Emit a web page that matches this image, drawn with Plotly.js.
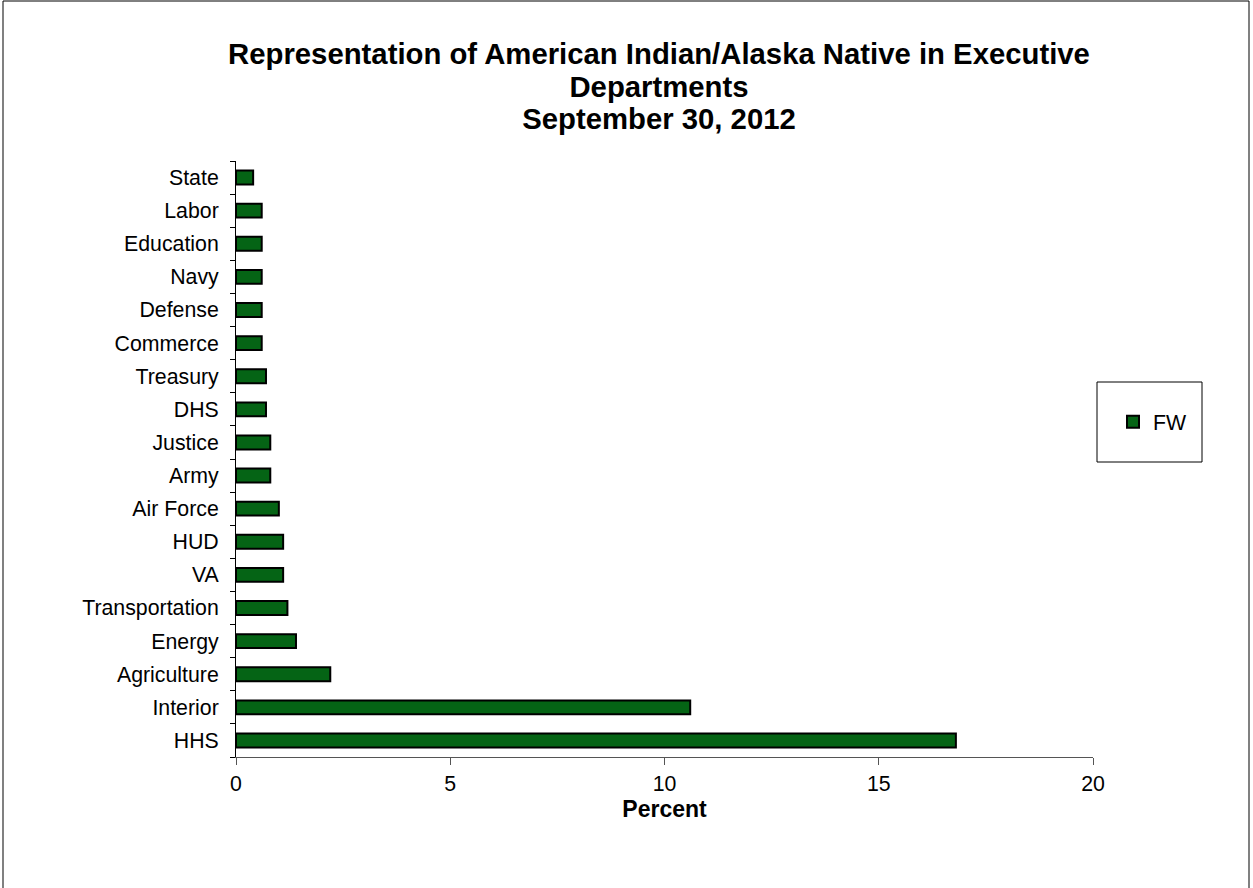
<!DOCTYPE html>
<html>
<head>
<meta charset="utf-8">
<script src="https://cdn.plot.ly/plotly-3.0.1.min.js"></script>
<style>
html,body{margin:0;padding:0;background:#fff;}
#chart{width:1253px;height:888px;}
</style>
</head>
<body>
<div id="chart"></div>
<script>
// Categories listed bottom-to-top as drawn
const departments = ["HHS","Interior","Agriculture","Energy","Transportation","VA","HUD","Air Force","Army","Justice","DHS","Treasury","Commerce","Defense","Navy","Education","Labor","State"];
const fwPercent = [16.8,10.6,2.2,1.4,1.2,1.1,1.1,1.0,0.8,0.8,0.7,0.7,0.6,0.6,0.6,0.6,0.6,0.4];
const seriesName = "FW";
const xTicks = [0,5,10,15,20];

const FONT = "Liberation Sans, Arial, sans-serif";
const L = 236, R = 1093, T = 161, B = 757;
const W = R - L, H = B - T;
const px = x => (x - L) / W;
const py = y => (B - y) / H;

const trace = {
  type: "bar",
  orientation: "h",
  name: seriesName,
  y: departments,
  x: fwPercent,
  marker: {color: "#056415", line: {color: "#000000", width: 2}},
  hoverinfo: "x+y"
};

const TS = 'font-size:29.3px';
const layout = {
  width: 1253, height: 888,
  margin: {l: L, r: 1253 - R, t: T, b: 888 - B, pad: 0},
  paper_bgcolor: "#ffffff",
  plot_bgcolor: "#ffffff",
  font: {family: FONT, color: "#000000", size: 21.3},
  title: {
    text: '<span style="' + TS + '">Representation of American Indian/Alaska Native in Executive</span><br><span style="' + TS + '">Departments</span><br><span style="' + TS + '">September 30, 2012</span>',
    font: {family: FONT, size: 25, color: "#000000", weight: "bold"},
    x: px(659), xref: "paper", xanchor: "center",
    y: 1 - 64/888, yref: "container", yanchor: "top"
  },
  bargap: 0.58,
  showlegend: true,
  legend: {
    x: px(1113), y: py(422), xanchor: "left", yanchor: "middle",
    xref: "paper", yref: "paper",
    font: {family: FONT, size: 21.3},
    borderwidth: 0, bgcolor: "rgba(0,0,0,0)",
    itemwidth: 30
  },
  xaxis: {
    range: [0, 20],
    tickvals: xTicks,
    ticktext: xTicks.map(String),
    ticks: "outside", ticklen: 7, tickcolor: "#555555", tickwidth: 1,
    showline: true, linecolor: "#555555", linewidth: 1,
    showgrid: false, zeroline: false,
    tickfont: {family: FONT, size: 21.3},
    title: {text: "<b>Percent</b>", font: {family: FONT, size: 23}, standoff: 6}
  },
  yaxis: {
    type: "category",
    categoryorder: "array", categoryarray: departments,
    ticks: "outside", ticklen: 5, tickcolor: "#000000", tickwidth: 1,
    tickson: "boundaries",
    showline: true, linecolor: "#000000", linewidth: 1,
    showgrid: false, zeroline: false,
    tickfont: {family: FONT, size: 21.3},
    ticklabelstandoff: 12
  },
  shapes: [
    // legend frame
    {type: "rect", xref: "paper", yref: "paper", x0: px(1097), x1: px(1202), y0: py(462), y1: py(382),
     line: {color: "#000000", width: 1}, fillcolor: "rgba(0,0,0,0)", layer: "above"},
    // outer chart frame
    {type: "line", xref: "paper", yref: "paper", x0: px(3), x1: px(3), y0: py(1), y1: py(900),
     line: {color: "#808080", width: 2}},
    {type: "line", xref: "paper", yref: "paper", x0: px(1249), x1: px(1249), y0: py(1), y1: py(900),
     line: {color: "#808080", width: 2}},
    {type: "line", xref: "paper", yref: "paper", x0: px(3), x1: px(1249), y0: py(1), y1: py(1),
     line: {color: "#000000", width: 1}}
  ]
};

Plotly.newPlot("chart", [trace], layout, {displayModeBar: false, staticPlot: true});
</script>
</body>
</html>
